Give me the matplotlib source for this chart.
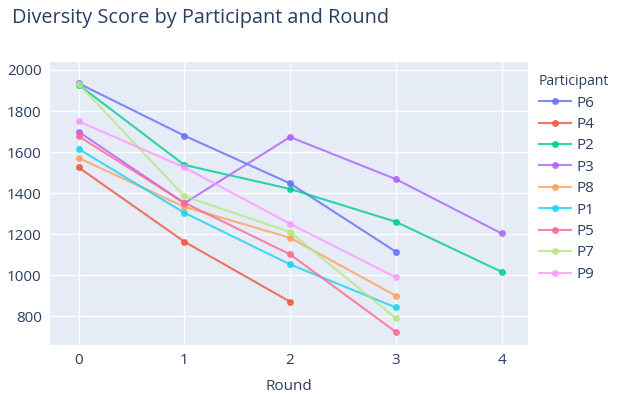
import matplotlib
matplotlib.use("Agg")
import matplotlib.pyplot as plt

participants = ["P6", "P4", "P2", "P3", "P8", "P1", "P5", "P7", "P9"]
rounds = {
    "P6": [0, 1, 2, 3],
    "P4": [0, 1, 2],
    "P2": [0, 1, 2, 3, 4],
    "P3": [0, 1, 2, 3, 4],
    "P8": [0, 1, 2, 3],
    "P1": [0, 1, 2, 3],
    "P5": [0, 1, 2, 3],
    "P7": [0, 1, 2, 3],
    "P9": [0, 1, 2, 3],
}
scores = {
    "P6": [1935, 1680, 1447, 1114],
    "P4": [1525, 1163, 870],
    "P2": [1928, 1537, 1420, 1260, 1016],
    "P3": [1699, 1350, 1673, 1468, 1203],
    "P8": [1571, 1333, 1182, 899],
    "P1": [1615, 1304, 1052, 842],
    "P5": [1677, 1353, 1101, 723],
    "P7": [1932, 1385, 1210, 789],
    "P9": [1750, 1525, 1250, 989],
}
colors = ["#636EFA", "#EF553B", "#00CC96", "#AB63FA", "#FFA15A",
          "#19D3F3", "#FF6692", "#B6E880", "#FF97FF"]
yticks = [800, 1000, 1200, 1400, 1600, 1800, 2000]
xticks = [0, 1, 2, 3, 4]

plt.rcParams['font.family'] = ['Open Sans', 'DejaVu Sans']
txt = "#2a3f5f"

fig = plt.figure(figsize=(6.21, 3.95), dpi=100)
ax = fig.add_axes([50/621, 1-345/395, (528-50)/621, (345-62)/395])
ax.set_facecolor("#E5ECF6")
for s in ax.spines.values():
    s.set_visible(False)
ax.grid(True, color="white", linewidth=1)
ax.set_axisbelow(True)

handles = []
for p, c in zip(participants, colors):
    h, = ax.plot(rounds[p], scores[p], color=c, alpha=0.8, linewidth=1.5,
                 marker="o", markersize=4, label=p)
    handles.append(h)

ax.set_xlim(-0.27, 4.25)
ax.set_ylim(659, 2039)
ax.set_xticks(xticks)
ax.set_yticks(yticks)
ax.tick_params(length=0, labelsize=11, colors=txt, pad=6)
ax.set_xlabel("Round", fontsize=11, color=txt, labelpad=8)

fig.text(12/621, 1-18/395, "Diversity Score by Participant and Round",
         fontsize=14.3, color=txt, va="center", ha="left")

leg = fig.legend(handles=handles, title="Participant", loc="upper left",
                 bbox_to_anchor=(533/621, 1-68/395), frameon=False,
                 fontsize=11, title_fontsize=10, labelspacing=0.42,
                 handlelength=2.1, handletextpad=0.35, borderaxespad=0)
leg._legend_box.align = "left"
for t in leg.get_texts():
    t.set_color(txt)
leg.get_title().set_color(txt)

fig.savefig("out.png", dpi=100)
